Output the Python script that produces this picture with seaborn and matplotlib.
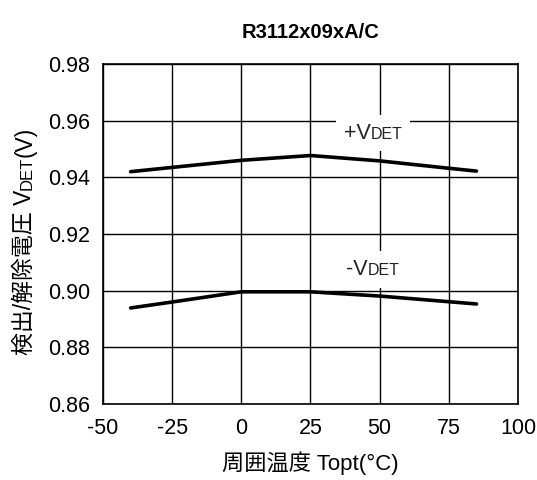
import pandas as pd
import matplotlib.pyplot as plt
import seaborn as sns
from matplotlib.offsetbox import TextArea, HPacker, AnnotationBbox

# data
temps = [-40, -25, 0, 25, 50, 75, 85]
plus_vdet = [0.9420, 0.9435, 0.9460, 0.9477, 0.9458, 0.9432, 0.9422]
minus_vdet = [0.8939, 0.8960, 0.8996, 0.8996, 0.8981, 0.8961, 0.8953]
x_ticks = [-50, -25, 0, 25, 50, 75, 100]
y_ticks = [0.86, 0.88, 0.90, 0.92, 0.94, 0.96, 0.98]

df = pd.DataFrame({
    "Temp": temps * 2,
    "Vdet": plus_vdet + minus_vdet,
    "Series": ["+VDET"] * len(temps) + ["-VDET"] * len(temps),
})

sns.set_theme(style="white")
plt.rcParams["font.family"] = ["Liberation Sans", "Noto Sans CJK JP"]
plt.rcParams["text.color"] = "black"

fig = plt.figure(figsize=(5.37, 4.8), dpi=100)
ax = fig.add_axes([0.1918, 0.1583, 0.7728, 0.7084])

sns.lineplot(data=df, x="Temp", y="Vdet", hue="Series",
             palette=["black", "black"], linewidth=2.6, legend=False, ax=ax)

ax.set_xlim(-50, 100)
ax.set_ylim(0.86, 0.98)
ax.set_xticks(x_ticks)
ax.set_yticks(y_ticks)
ax.set_xticklabels([str(t) for t in x_ticks], fontsize=15.5)
ax.set_yticklabels([f"{t:.2f}" for t in y_ticks], fontsize=15.5)
ax.tick_params(axis="y", length=0, pad=9, colors="black")
ax.tick_params(axis="x", length=0, pad=10, colors="black")
ax.grid(True, color="black", linewidth=1.0)
ax.set_axisbelow(True)
for s in ax.spines.values():
    s.set_color("black")
    s.set_linewidth(1.2)

ax.set_xlabel("周囲温度 Topt(°C)", fontsize=16, labelpad=9, color="black")
ax.set_ylabel("")
ax.set_title("R3112x09xA/C", fontsize=14.5, fontweight="bold", pad=19, color="black")

# series labels with white boxes
def add_label(sign, x, y):
    box = HPacker(children=[
        TextArea(sign + "V", textprops=dict(fontsize=15.5, color="#222222")),
        TextArea("DET", textprops=dict(fontsize=11.5, color="#222222")),
    ], align="baseline", pad=0, sep=0)
    ab = AnnotationBbox(box, (x, y), frameon=True, pad=0.5, zorder=3,
                        bboxprops=dict(facecolor="white", edgecolor="none"))
    ax.add_artist(ab)

add_label("+", 47.6, 0.9556)
add_label("-", 47.6, 0.9075)

# y label built from pieces (smaller DET)
renderer = fig.canvas.get_renderer()
fig_h = fig.get_size_inches()[1] * fig.dpi
xlab = 0.058
ypos = 0.26
parts = [("検出/解除電圧 V", 16.5), ("DET", 12), ("(V)", 16.5)]
for txt, fs in parts:
    t = fig.text(xlab, ypos, txt, rotation=90, rotation_mode="anchor",
                 ha="left", va="baseline", fontsize=fs, color="black")
    ypos += t.get_window_extent(renderer).height / fig_h

fig.savefig("out.png", dpi=100)
